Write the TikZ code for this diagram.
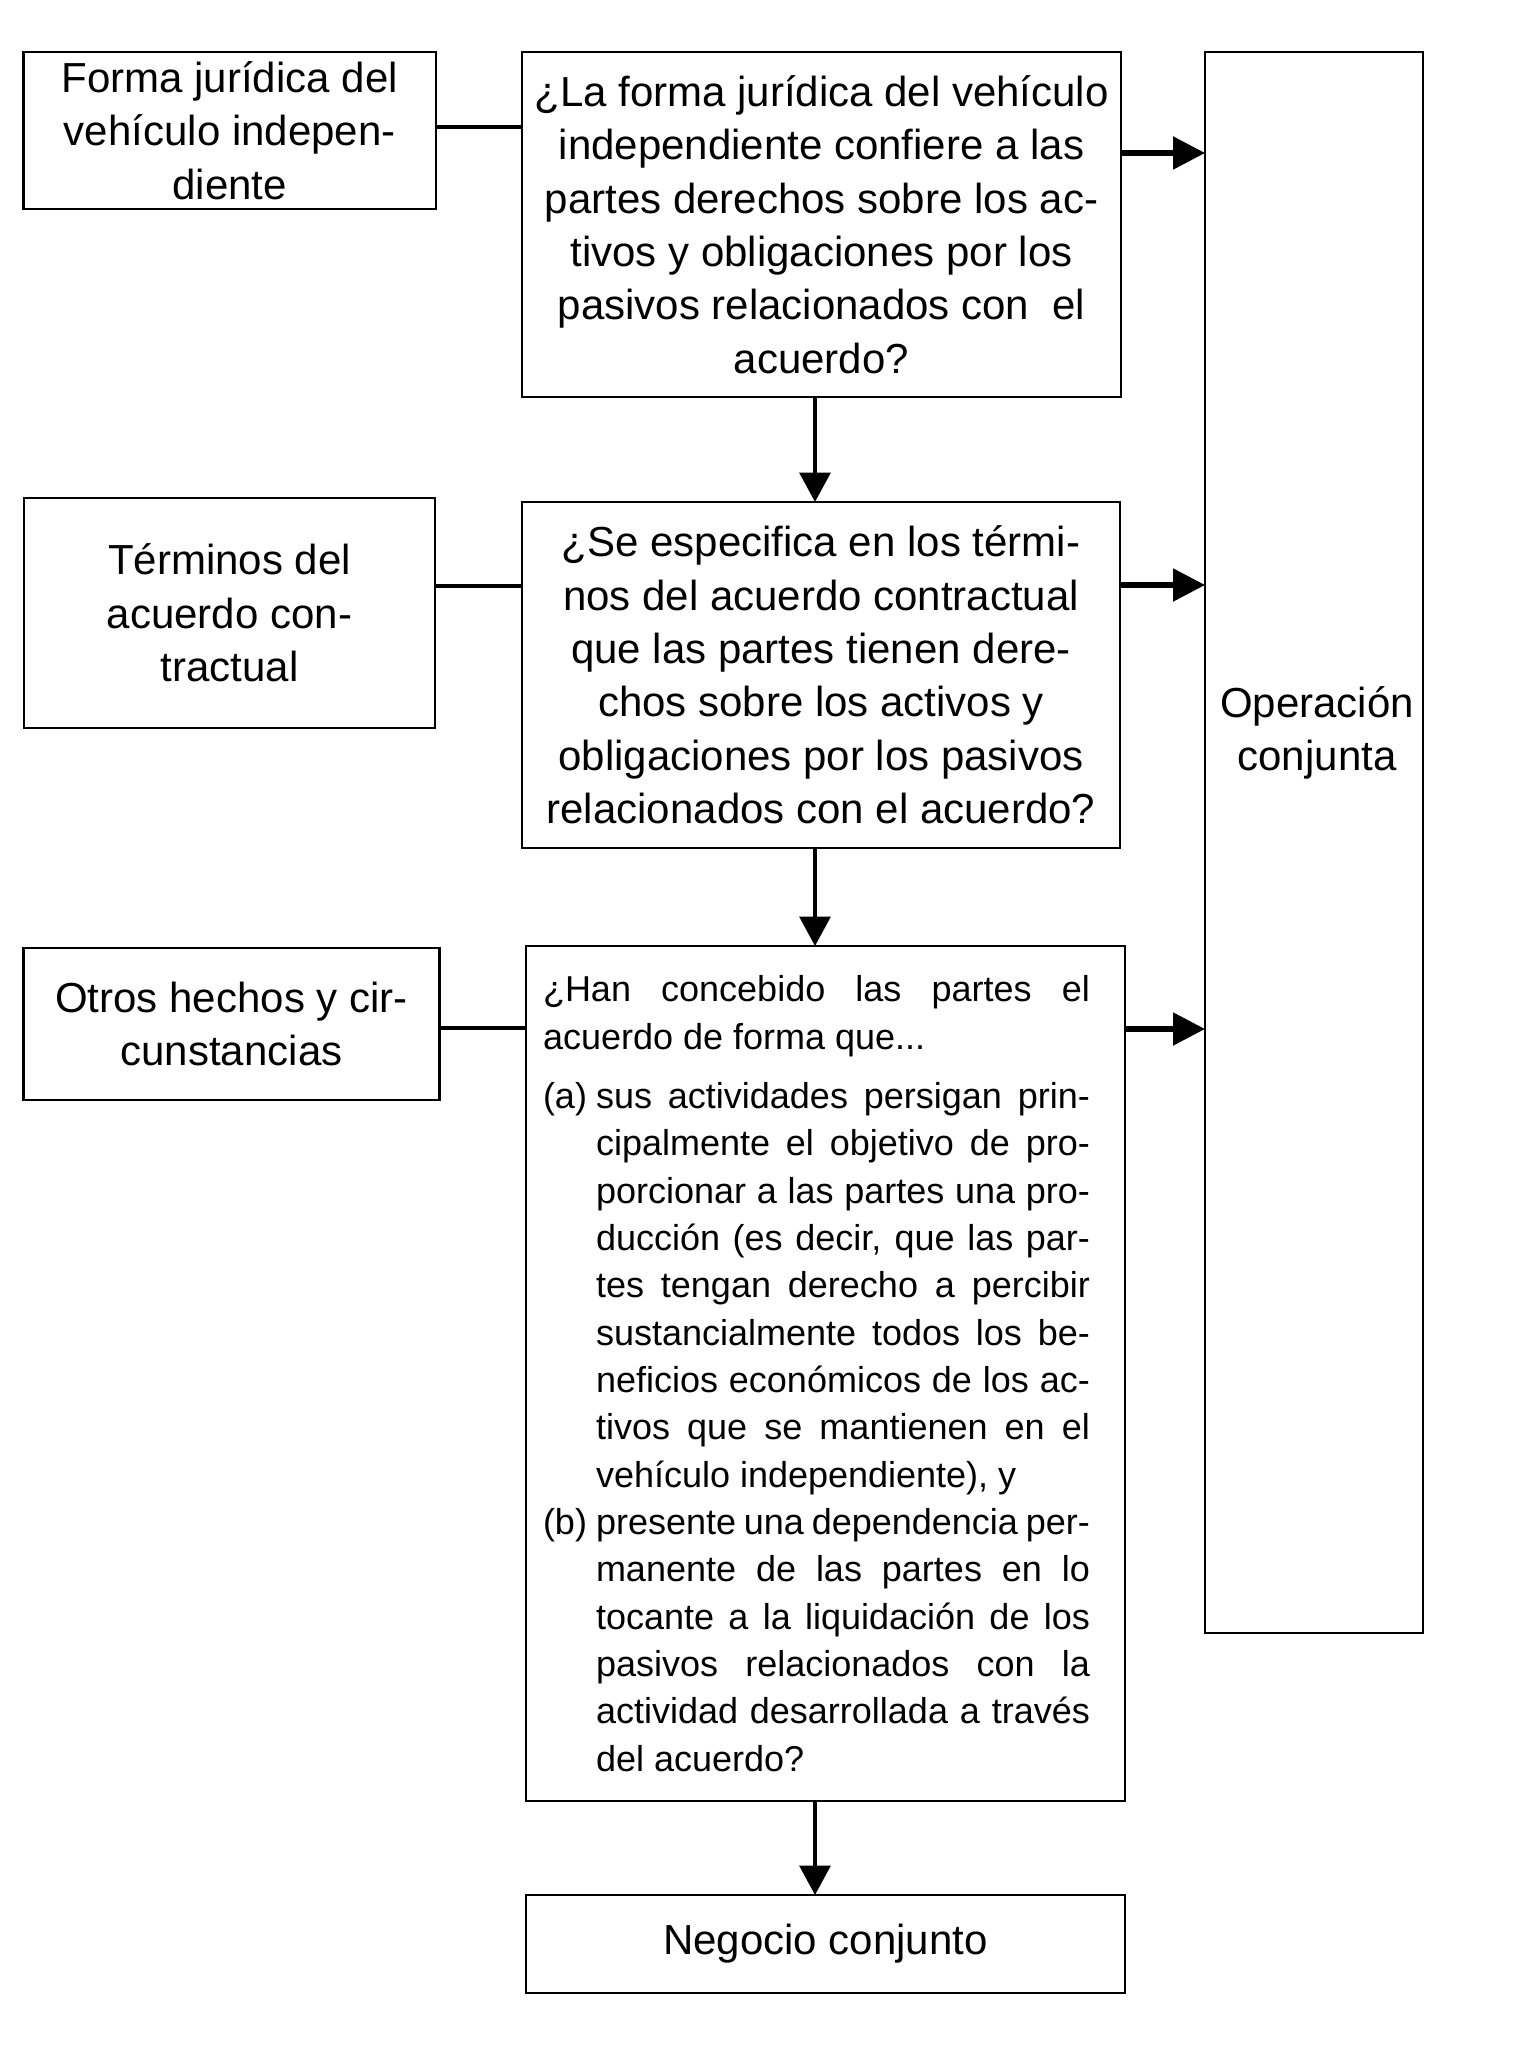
\documentclass[tikz,border=0pt]{standalone}
\usepackage{fontspec}
\setmainfont{Liberation Sans}
\usetikzlibrary{arrows.meta}
\newcommand{\fjust}[1]{\makebox[\linewidth][s]{#1}\par}
\newcommand{\findent}[1]{\hspace*{39.75pt}\makebox[\dimexpr\linewidth-39.75pt\relax][s]{#1}\par}
\newcommand{\flabel}[2]{\makebox[39.75pt][l]{#1}\makebox[\dimexpr\linewidth-39.75pt\relax][s]{#2}\par}
\newcommand{\flastind}[1]{\hspace*{39.75pt}#1\par}
\begin{document}
\begin{tikzpicture}[x=0.75pt,y=-0.75pt,
  box/.style={draw, line width=2pt, inner sep=0pt, outer sep=0pt, rectangle, align=center,
    font=\fontsize{31.5}{40}\selectfont},
  big/.style={align=center, inner sep=0pt, font=\fontsize{31.5}{40}\selectfont},
  link/.style={line width=2.6pt},
  harrow/.style={line width=4pt, -{Triangle[length=24pt,width=24pt]}},
  varrow/.style={line width=2.9pt, -{Triangle[length=22pt,width=23pt]}}
]
\fill[white] (0,0) rectangle (1540,2047);
\useasboundingbox (0,0) rectangle (1540,2047);

\node[box, minimum width=309.4pt, minimum height=117.75pt] (A) at (229.75,130.5)
  {Forma jurídica del\\vehículo indepen-\\diente};
\node[box, minimum width=449.25pt, minimum height=258.75pt] (B) at (821.5,224.5)
  {¿La forma jurídica del vehículo\\independiente confiere a las\\partes derechos sobre los ac-\\tivos y obligaciones por los\\pasivos relacionados con \ el\\acuerdo?};
\node[box, minimum width=163.5pt, minimum height=1185.75pt] (Op) at (1314,842.5) {};
\node[big] (OpT) at (1317,733) {Operación\\conjunta};
\node[box, minimum width=308.25pt, minimum height=172.5pt] (C) at (229.5,613)
  {Términos del\\acuerdo con-\\tractual};
\node[box, minimum width=448.5pt, minimum height=259.5pt] (D) at (821,675)
  {¿Se especifica en los térmi-\\nos del acuerdo contractual\\que las partes tienen dere-\\chos sobre los activos y\\obligaciones por los pasivos\\relacionados con el acuerdo?};
\node[box, minimum width=312pt, minimum height=114pt] (E) at (231.5,1024)
  {Otros hechos y cir-\\cunstancias};
\node[box, minimum width=449.25pt, minimum height=641.25pt] (F) at (825.5,1373.5)
  {\parbox{410.25pt}{\fontsize{27}{35.5}\selectfont\parindent=0pt\parskip=0pt
  \fjust{¿Han concebido las partes el}
  acuerdo de forma que...\par
  \vspace{9pt}
  \flabel{(a)}{sus actividades persigan prin-}
  \findent{cipalmente el objetivo de pro-}
  \findent{porcionar a las partes una pro-}
  \findent{ducción (es decir, que las par-}
  \findent{tes tengan derecho a percibir}
  \findent{sustancialmente todos los be-}
  \findent{neficios económicos de los ac-}
  \findent{tivos que se mantienen en el}
  \flastind{vehículo independiente), y}
  \flabel{(b)}{presente una dependencia per-}
  \findent{manente de las partes en lo}
  \findent{tocante a la liquidación de los}
  \findent{pasivos relacionados con la}
  \findent{actividad desarrollada a través}
  \flastind{del acuerdo?}}\hspace*{13.5pt}};
\node[box, minimum width=449.25pt, minimum height=73.5pt] (G) at (825.5,1944)
  {Negocio conjunto};

% helper coordinates
\coordinate (yAB) at (0,127);
\coordinate (yCD) at (0,586);
\coordinate (yEF) at (0,1028);
\coordinate (h1) at (0,153);
\coordinate (h2) at (0,585);
\coordinate (h3) at (0,1029);
\coordinate (vx) at (815,0);

\draw[link] (A.east |- yAB) -- (B.west |- yAB);
\draw[link] (C.east |- yCD) -- (D.west |- yCD);
\draw[link] (E.east |- yEF) -- (F.west |- yEF);

\draw[harrow] (B.east |- h1) -- (Op.west |- h1);
\draw[harrow] (D.east |- h2) -- (Op.west |- h2);
\draw[harrow] (F.east |- h3) -- (Op.west |- h3);

\draw[varrow] (B.south -| vx) -- (D.north -| vx);
\draw[varrow] (D.south -| vx) -- (F.north -| vx);
\draw[varrow] (F.south -| vx) -- (G.north -| vx);
\end{tikzpicture}
\end{document}
